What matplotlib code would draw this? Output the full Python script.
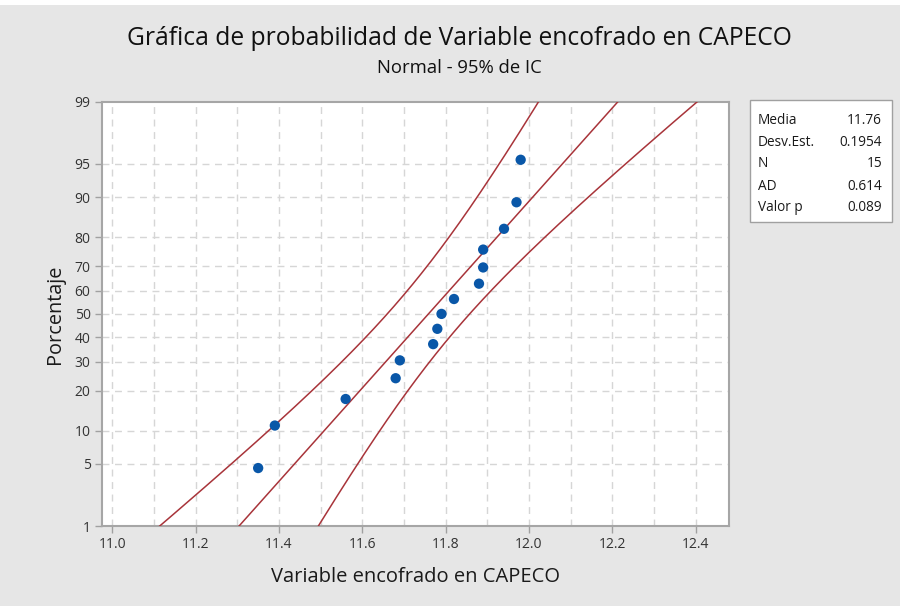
from statistics import NormalDist
import numpy as np
import matplotlib
matplotlib.use("Agg")
import matplotlib.pyplot as plt
from matplotlib.patches import Rectangle

# datos (Variable encofrado en CAPECO)
valores = [11.35, 11.39, 11.56, 11.68, 11.69, 11.77, 11.78, 11.79,
           11.82, 11.88, 11.89, 11.89, 11.94, 11.97, 11.98]
y_ticks = [1, 5, 10, 20, 30, 40, 50, 60, 70, 80, 90, 95, 99]
x_ticks = [11.0, 11.2, 11.4, 11.6, 11.8, 12.0, 12.2, 12.4]
stats_labels = ["Media", "Desv.Est.", "N", "AD", "Valor p"]
stats_values = ["11.76", "0.1954", "15", "0.614", "0.089"]

plt.rcParams['font.family'] = ['Open Sans', 'DejaVu Sans']

nd = NormalDist()


def _ppf_one(p):
    if not np.isfinite(p):
        return np.nan
    return nd.inv_cdf(min(max(p / 100.0, 1e-9), 1 - 1e-9))


def _cdf_one(z):
    if not np.isfinite(z):
        return np.nan
    return nd.cdf(z) * 100.0


_ppf = np.vectorize(_ppf_one, otypes=[float])
_cdf = np.vectorize(_cdf_one, otypes=[float])


def forward(p):
    return _ppf(np.asarray(p, dtype=float))


def inverse(z):
    return _cdf(np.asarray(z, dtype=float))


x = np.sort(np.array(valores))
n = len(x)
mu = x.mean()
sd = x.std(ddof=1)
ranks = (np.arange(1, n + 1) - 0.3) / (n + 0.4) * 100

# linea ajustada e intervalos de confianza 95%
zz = np.linspace(-3, 3, 400)
fit = mu + zz * sd
half = 1.96 * sd * np.sqrt(1.0 / n + zz ** 2 / (2.0 * n))
pp = _cdf(zz)

fig = plt.figure(figsize=(9, 6.06), dpi=100)
fig.patch.set_facecolor('#e6e6e6')
fig.add_artist(Rectangle((0, 1 - 5 / 606), 1, 5 / 606, transform=fig.transFigure,
                         facecolor='white', edgecolor='none'))

ax = fig.add_axes([0.113, 0.132, 0.697, 0.7])
ax.set_facecolor('white')
ax.set_yscale('function', functions=(forward, inverse))

red = '#a8343a'
ax.plot(fit, pp, color=red, lw=1.1, zorder=3)
ax.plot(fit - half, pp, color=red, lw=1.1, zorder=3)
ax.plot(fit + half, pp, color=red, lw=1.1, zorder=3)
ax.scatter(x, ranks, s=55, color='#0957a8', zorder=4, edgecolors='none')

ax.set_xlim(10.9745, 12.48)
ax.set_ylim(1, 99)
ax.set_yticks(y_ticks)
ax.set_yticklabels([str(t) for t in y_ticks])
ax.yaxis.set_minor_locator(matplotlib.ticker.NullLocator())
ax.set_xticks(x_ticks)
ax.set_xticklabels([f"{t:.1f}" for t in x_ticks])
ax.xaxis.set_minor_locator(matplotlib.ticker.NullLocator())

for t in y_ticks[1:-1]:
    ax.axhline(t, color='#d6d6d6', lw=1, ls=(0, (5, 4)), zorder=1)
for t in np.arange(11.0, 12.45, 0.1):
    ax.axvline(t, color='#d6d6d6', lw=1, ls=(0, (5, 4)), zorder=1)

ax.tick_params(axis='both', which='major', direction='out', length=5, width=1,
               color='#a0a0a0', labelsize=10, labelcolor='#333333', pad=3)
for s in ax.spines.values():
    s.set_color('#a6a6a6')
    s.set_linewidth(1.5)

ax.set_xlabel("Variable encofrado en CAPECO", fontsize=14.5, color='#1a1a1a', labelpad=11)
ax.set_ylabel("Porcentaje", fontsize=14.3, color='#1a1a1a', labelpad=7)

fig.text(0.51, 0.936, "Gráfica de probabilidad de Variable encofrado en CAPECO",
         ha='center', va='center', fontsize=17.7, color='#111111')
fig.text(0.51, 0.888, "Normal - 95% de IC", ha='center', va='center',
         fontsize=13.3, color='#111111')

# cuadro de estadisticos
fig.add_artist(Rectangle((750 / 900, 1 - 222 / 606), 142 / 900, 122 / 606,
                         transform=fig.transFigure, facecolor='white',
                         edgecolor='#a0a0a0', lw=1))
for i, (lab, val) in enumerate(zip(stats_labels, stats_values)):
    yy = 1 - (120 + i * 22) / 606
    fig.text(758 / 900, yy, lab, ha='left', va='center', fontsize=9.8, color='#1a1a1a')
    fig.text(882 / 900, yy, val, ha='right', va='center', fontsize=9.8, color='#1a1a1a')

fig.savefig("out.png", dpi=100, facecolor=fig.get_facecolor())
